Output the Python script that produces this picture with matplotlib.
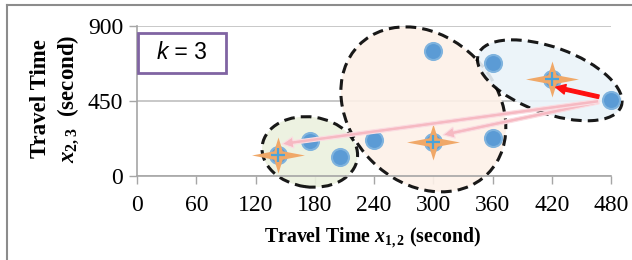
import numpy as np
import matplotlib
matplotlib.use("Agg")
import matplotlib.pyplot as plt
from matplotlib.patches import Ellipse, Rectangle, FancyArrowPatch
from matplotlib.path import Path
from matplotlib.lines import Line2D
from matplotlib.transforms import IdentityTransform, ScaledTranslation

# data
point_x = [143, 175, 206, 240, 300, 300, 360, 360, 420, 480]
point_y = [125, 212, 116, 214, 205, 750, 228, 675, 580, 458]
centroid_x = [143, 300, 420]
centroid_y = [125, 205, 580]
x_ticks = [0, 60, 120, 180, 240, 300, 360, 420, 480]
y_ticks = [0, 450, 900]

# cluster outlines: center (data), width/height (pixels), angle, fill
clusters = [
    ((175, 144), 96, 70, -8, "#EBF1DE"),
    ((290, 399), 182, 146, 135, "#FDF1E8"),
    ((418, 573), 152, 66, -20, "#EAF3F9"),
]

plt.rcParams["font.family"] = ["Liberation Serif", "DejaVu Serif"]
plt.rcParams["mathtext.fontset"] = "custom"
plt.rcParams["mathtext.rm"] = "Liberation Serif:bold"
plt.rcParams["mathtext.it"] = "Liberation Serif:italic:bold"
plt.rcParams["mathtext.bf"] = "Liberation Serif:bold"

fig = plt.figure(figsize=(6.32, 2.6), dpi=100)
ax = fig.add_axes([137 / 632, 84 / 260, 474 / 632, 150.3 / 260])
ax.set_xlim(0, 480)
ax.set_ylim(0, 900)

# outer frame
fig.add_artist(Line2D([7 / 632, 7 / 632], [0, 1 - 5 / 260], transform=fig.transFigure, color="#8c8c8c", lw=1.5))
fig.add_artist(Line2D([7 / 632, 1], [1 - 5 / 260, 1 - 5 / 260], transform=fig.transFigure, color="#8c8c8c", lw=1.5))

for (c, w, h, ang, fc) in clusters:
    tr = IdentityTransform() + ScaledTranslation(c[0], c[1], ax.transData)
    e = Ellipse((0, 0), w, h, angle=ang, transform=tr, facecolor=fc, alpha=0.9,
                edgecolor="black", lw=2.2, linestyle=(0, (3.5, 2)), zorder=1, clip_on=False)
    ax.add_patch(e)

ax.scatter(point_x, point_y, s=150, color="#5B9BD5", edgecolors="#7FB3DE", linewidths=1.5,
           zorder=3, clip_on=False)

# four pointed star
a, b, r = 1.0, 0.68, 0.16
star = Path([(-a, 0), (-r, r), (0, b), (r, r), (a, 0), (r, -r), (0, -b), (-r, -r), (-a, 0)],
            [Path.MOVETO] + [Path.LINETO] * 7 + [Path.CLOSEPOLY])
ax.scatter(centroid_x, centroid_y, marker=star, s=1450, color="#F0A868", linewidths=0, zorder=5, clip_on=False)
ax.scatter(centroid_x, centroid_y, marker="+", s=90, color="#4BA3D9", linewidths=1.6, zorder=6, clip_on=False)

# arrows from the far point
ax.add_patch(FancyArrowPatch((480, 458), (424, 532), arrowstyle="simple,head_width=7,head_length=7,tail_width=2.5",
                             color="#FF1010", shrinkA=9, shrinkB=0, zorder=7, clip_on=False))
for tx, ty in [(310, 246), (147, 192)]:
    ax.add_patch(FancyArrowPatch((480, 458), (tx, ty), arrowstyle="simple,head_width=8,head_length=8,tail_width=2.6",
                                 facecolor="#F6B9C2", edgecolor="#FBDDE2", lw=0.8, shrinkA=9, shrinkB=0,
                                 zorder=7, clip_on=False))

# k box
ax.add_patch(Rectangle((0.002, 0.687), 0.186, 0.266, transform=ax.transAxes, facecolor="white",
                       edgecolor="#8064A2", lw=2, zorder=4))
kx = (168 - 137) / 474
ax.text(kx, 0.82, "k", transform=ax.transAxes, ha="right", va="center", fontsize=16.5,
        family=["Liberation Sans"], style="italic", zorder=5)
ax.text(kx, 0.82, " = 3", transform=ax.transAxes, ha="left", va="center", fontsize=16.5,
        family=["Liberation Sans"], zorder=5)

ax.set_xticks(x_ticks)
ax.set_yticks(y_ticks)
ax.tick_params(axis="both", labelsize=17, color="#A6A6A6", length=6, width=1)
ax.tick_params(axis="x", pad=8)
ax.tick_params(axis="y", pad=4)
ax.grid(axis="y", color="#BFBFBF", lw=1.2, zorder=0)
ax.set_axisbelow(True)
for s in ["top", "right"]:
    ax.spines[s].set_visible(False)
for s in ["left", "bottom"]:
    ax.spines[s].set_color("#A6A6A6")
    ax.spines[s].set_linewidth(1.2)

fig.text(373 / 632, 1 - 238 / 260, "Travel Time $x_{1,2}$ (second)", ha="center", va="center",
         fontsize=14.3, fontweight="bold")
fig.text(41 / 632, 1 - 99 / 260, "Travel Time", ha="center", va="center", rotation=90,
         fontsize=16.5, fontweight="bold")
fig.text(68 / 632, 1 - 99 / 260, "$x_{2,3}$  (second)", ha="center", va="center", rotation=90,
         fontsize=16.5, fontweight="bold")

fig.savefig("out.png", dpi=100)
